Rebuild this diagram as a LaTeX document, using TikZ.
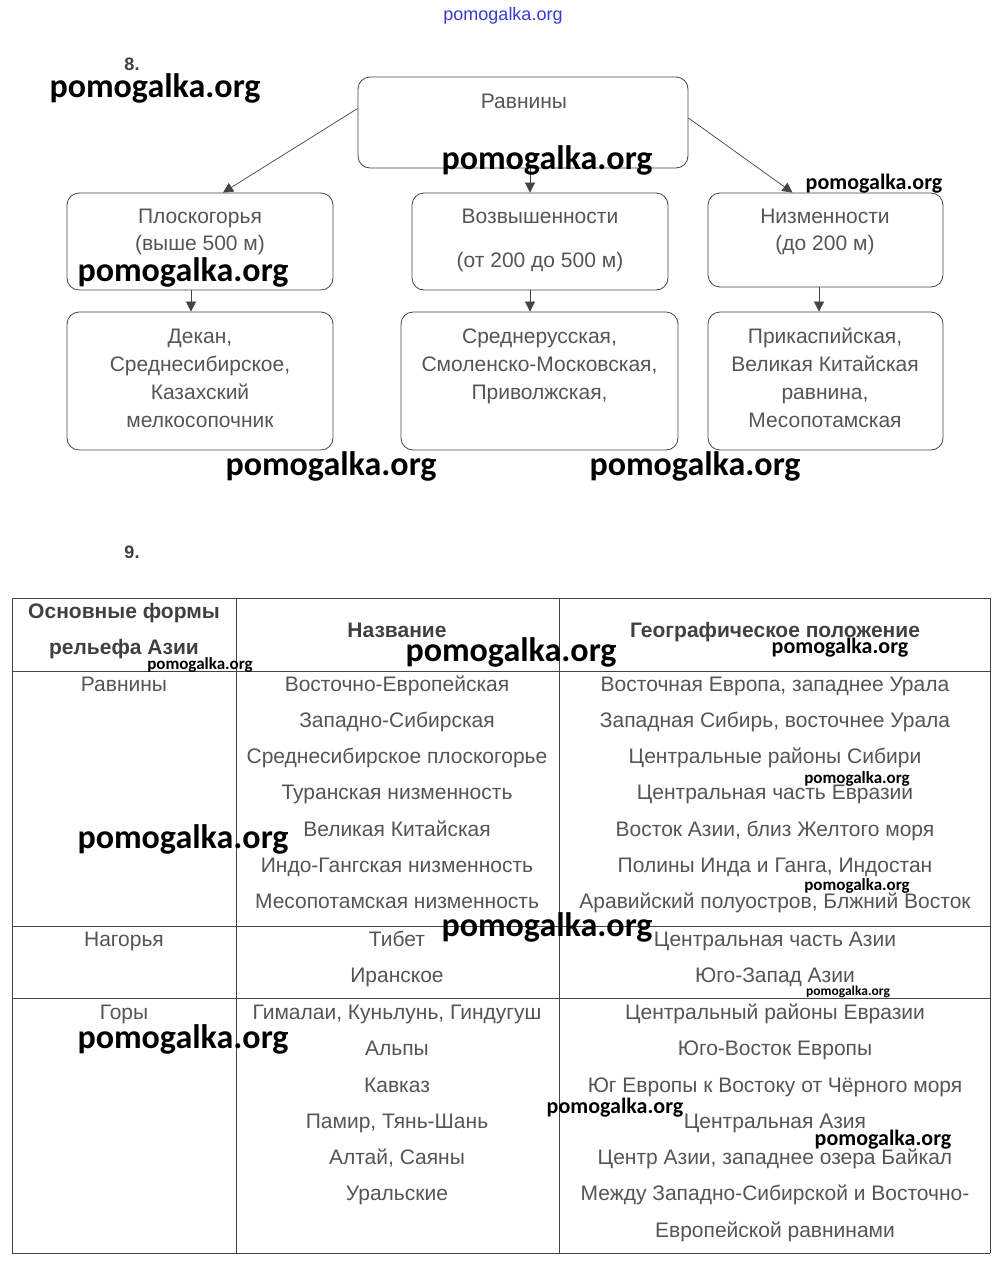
\documentclass[tikz,border=0pt]{standalone}
\usepackage{fontspec}
\setmainfont{Liberation Sans}
\newfontfamily\wmfont{Carlito}
\usetikzlibrary{arrows.meta}
\definecolor{txtgray}{HTML}{555555}
\definecolor{linegray}{HTML}{444444}
\definecolor{wmblue}{HTML}{3A3AD0}
\begin{document}
\begin{tikzpicture}[x=1pt,y=-1pt,
  boxnode/.style={draw=linegray, line width=0.8pt, rounded corners=12pt, inner sep=0pt},
  btxt/.style={text=txtgray, font=\fontsize{21}{24}\selectfont, anchor=base, inner sep=0pt},
  ttxt/.style={text=txtgray, font=\fontsize{21}{24}\selectfont, anchor=base, inner sep=0pt},
  htxt/.style={text=black!75, font=\bfseries\fontsize{21}{24}\selectfont, anchor=base, inner sep=0pt},
  numtxt/.style={text=black!75, font=\bfseries\fontsize{18}{22}\selectfont, anchor=base, inner sep=0pt},
  arr/.style={draw=linegray, line width=0.7pt, -{Triangle[length=10pt,width=10pt]}},
  tline/.style={draw=linegray, line width=0.8pt},
  wmbig/.style={font=\wmfont\bfseries\fontsize{34}{36}\selectfont, anchor=base, inner sep=0pt},
  wmmid/.style={font=\wmfont\bfseries\fontsize{22}{24}\selectfont, anchor=base, inner sep=0pt},
  wmsmall/.style={font=\wmfont\bfseries\fontsize{17}{19}\selectfont, anchor=base, inner sep=0pt},
  wmtiny/.style={font=\wmfont\bfseries\fontsize{13.5}{15}\selectfont, anchor=base, inner sep=0pt}]
\useasboundingbox[fill=white] (0,0) rectangle (1000,1267);

% top watermark
\node[text=wmblue, font=\fontsize{18}{20}\selectfont, anchor=base, inner sep=0pt] (wmtop) at (503,20) {pomogalka.org};

% ===== Part 8 =====
\node[numtxt] (n8) at (132,70) {8.};

\node[boxnode, minimum width=330, minimum height=91] (rav) at (523,122.5) {};
\node[boxnode, minimum width=266, minimum height=97] (plo) at (200,241.5) {};
\node[boxnode, minimum width=256, minimum height=97] (voz) at (540,241.5) {};
\node[boxnode, minimum width=235, minimum height=94] (niz) at (825.5,240) {};
\node[boxnode, minimum width=266, minimum height=138] (dek) at (200,381) {};
\node[boxnode, minimum width=277, minimum height=138] (sre) at (539.5,381) {};
\node[boxnode, minimum width=235, minimum height=138] (pri) at (825.5,381) {};

\node[btxt] (travn) at (524,108) {Равнины};
\node[btxt] (tplo1) at (200,223) {Плоскогорья};
\node[btxt] (tplo2) at (200,250) {(выше 500 м)};
\node[btxt] (tvoz1) at (540,223) {Возвышенности};
\node[btxt] (tvoz2) at (540,267) {(от 200 до 500 м)};
\node[btxt] (tniz1) at (825,223) {Низменности};
\node[btxt] (tniz2) at (825,250) {(до 200 м)};

\node[btxt] (td1) at (200,343) {Декан,};
\node[btxt] (td2) at (200,371) {Среднесибирское,};
\node[btxt] (td3) at (200,399) {Казахский};
\node[btxt] (td4) at (200,427) {мелкосопочник};

\node[btxt] (ts1) at (539.5,343) {Среднерусская,};
\node[btxt] (ts2) at (539.5,371) {Смоленско-Московская,};
\node[btxt] (ts3) at (539.5,399) {Приволжская,};

\node[btxt] (tp1) at (825,343) {Прикаспийская,};
\node[btxt] (tp2) at (825,371) {Великая Китайская};
\node[btxt] (tp3) at (825,399) {равнина,};
\node[btxt] (tp4) at (825,427) {Месопотамская};

\draw[arr] ([yshift=14pt]rav.west) -- ([xshift=23pt]plo.north);
\draw[arr] ([xshift=7pt]rav.south) -- ([xshift=-10pt]voz.north);
\draw[arr] ([yshift=4.5pt]rav.east) -- ([xshift=-33pt]niz.north);
\draw[arr] ([xshift=-9pt]plo.south) -- ([xshift=-9pt]dek.north);
\draw[arr] ([xshift=-10pt]voz.south) -- ([xshift=-9.5pt]sre.north);
\draw[arr] ([xshift=-6.5pt]niz.south) -- ([xshift=-6.5pt]pri.north);

% ===== Part 9 =====
\node[numtxt] (n9) at (132,558) {9.};

\draw[tline] (12,598) -- (990,598);
\draw[tline] (12,671) -- (990,671);
\draw[tline] (12,926.5) -- (990,926.5);
\draw[tline] (12,998.5) -- (990,998.5);
\draw[tline] (12,1253) -- (990,1253);
\draw[tline] (12,598) -- (12,1253);
\draw[tline] (236,598) -- (236,1253);
\draw[tline] (559,598) -- (559,1253);
\draw[tline] (990,598) -- (990,1253);

\node[htxt] (h1a) at (124,618) {Основные формы};
\node[htxt] (h1b) at (124,654) {рельефа Азии};
\node[htxt] (h2) at (397,637) {Название};
\node[htxt] (h3) at (775,637) {Географическое положение};

% Равнины
\node[ttxt] (c1r) at (124,691) {Равнины};
\node[ttxt] (r1b) at (397,691) {Восточно-Европейская};
\node[ttxt] (r2b) at (397,727) {Западно-Сибирская};
\node[ttxt] (r3b) at (397,763) {Среднесибирское плоскогорье};
\node[ttxt] (r4b) at (397,799) {Туранская низменность};
\node[ttxt] (r5b) at (397,836) {Великая Китайская};
\node[ttxt] (r6b) at (397,872) {Индо-Гангская низменность};
\node[ttxt] (r7b) at (397,908) {Месопотамская низменность};
\node[ttxt] (r1c) at (775,691) {Восточная Европа, западнее Урала};
\node[ttxt] (r2c) at (775,727) {Западная Сибирь, восточнее Урала};
\node[ttxt] (r3c) at (775,763) {Центральные районы Сибири};
\node[ttxt] (r4c) at (775,799) {Центральная часть Евразии};
\node[ttxt] (r5c) at (775,836) {Восток Азии, близ Желтого моря};
\node[ttxt] (r6c) at (775,872) {Полины Инда и Ганга, Индостан};
\node[ttxt] (r7c) at (775,908) {Аравийский полуостров, Блжний Восток};

% Нагорья
\node[ttxt] (c1n) at (124,946) {Нагорья};
\node[ttxt] (n1b) at (397,946) {Тибет};
\node[ttxt] (n2b) at (397,982) {Иранское};
\node[ttxt] (n1c) at (775,946) {Центральная часть Азии};
\node[ttxt] (n2c) at (775,982) {Юго-Запад Азии};

% Горы
\node[ttxt] (c1g) at (124,1019) {Горы};
\node[ttxt] (g1b) at (397,1019) {Гималаи, Куньлунь, Гиндугуш};
\node[ttxt] (g2b) at (397,1055) {Альпы};
\node[ttxt] (g3b) at (397,1092) {Кавказ};
\node[ttxt] (g4b) at (397,1128) {Памир, Тянь-Шань};
\node[ttxt] (g5b) at (397,1164) {Алтай, Саяны};
\node[ttxt] (g6b) at (397,1200) {Уральские};
\node[ttxt] (g1c) at (775,1019) {Центральный районы Евразии};
\node[ttxt] (g2c) at (775,1055) {Юго-Восток Европы};
\node[ttxt] (g3c) at (775,1092) {Юг Европы к Востоку от Чёрного моря};
\node[ttxt] (g4c) at (775,1128) {Центральная Азия};
\node[ttxt] (g5c) at (775,1164) {Центр Азии, западнее озера Байкал};
\node[ttxt] (g6c) at (775,1200) {Между Западно-Сибирской и Восточно-};
\node[ttxt] (g7c) at (775,1237) {Европейской равнинами};

% ===== watermarks =====
\node[wmbig] (w1) at (155,97) {pomogalka.org};
\node[wmbig] (w2) at (547,169) {pomogalka.org};
\node[wmmid] (w3) at (874,189) {pomogalka.org};
\node[wmbig] (w4) at (183,281) {pomogalka.org};
\node[wmbig] (w5) at (331,475) {pomogalka.org};
\node[wmbig] (w6) at (695,475) {pomogalka.org};
\node[wmsmall] (w7) at (200,669) {pomogalka.org};
\node[wmbig] (w8) at (511,661) {pomogalka.org};
\node[wmmid] (w9) at (840,653) {pomogalka.org};
\node[wmsmall] (w10) at (857,783) {pomogalka.org};
\node[wmsmall] (w11) at (857,890) {pomogalka.org};
\node[wmbig] (w12) at (547,936) {pomogalka.org};
\node[wmbig] (w13) at (183,848) {pomogalka.org};
\node[wmtiny] (w14) at (848,995) {pomogalka.org};
\node[wmbig] (w15) at (183,1048) {pomogalka.org};
\node[wmmid] (w16) at (615,1113) {pomogalka.org};
\node[wmmid] (w17) at (883,1145) {pomogalka.org};
\end{tikzpicture}
\end{document}
